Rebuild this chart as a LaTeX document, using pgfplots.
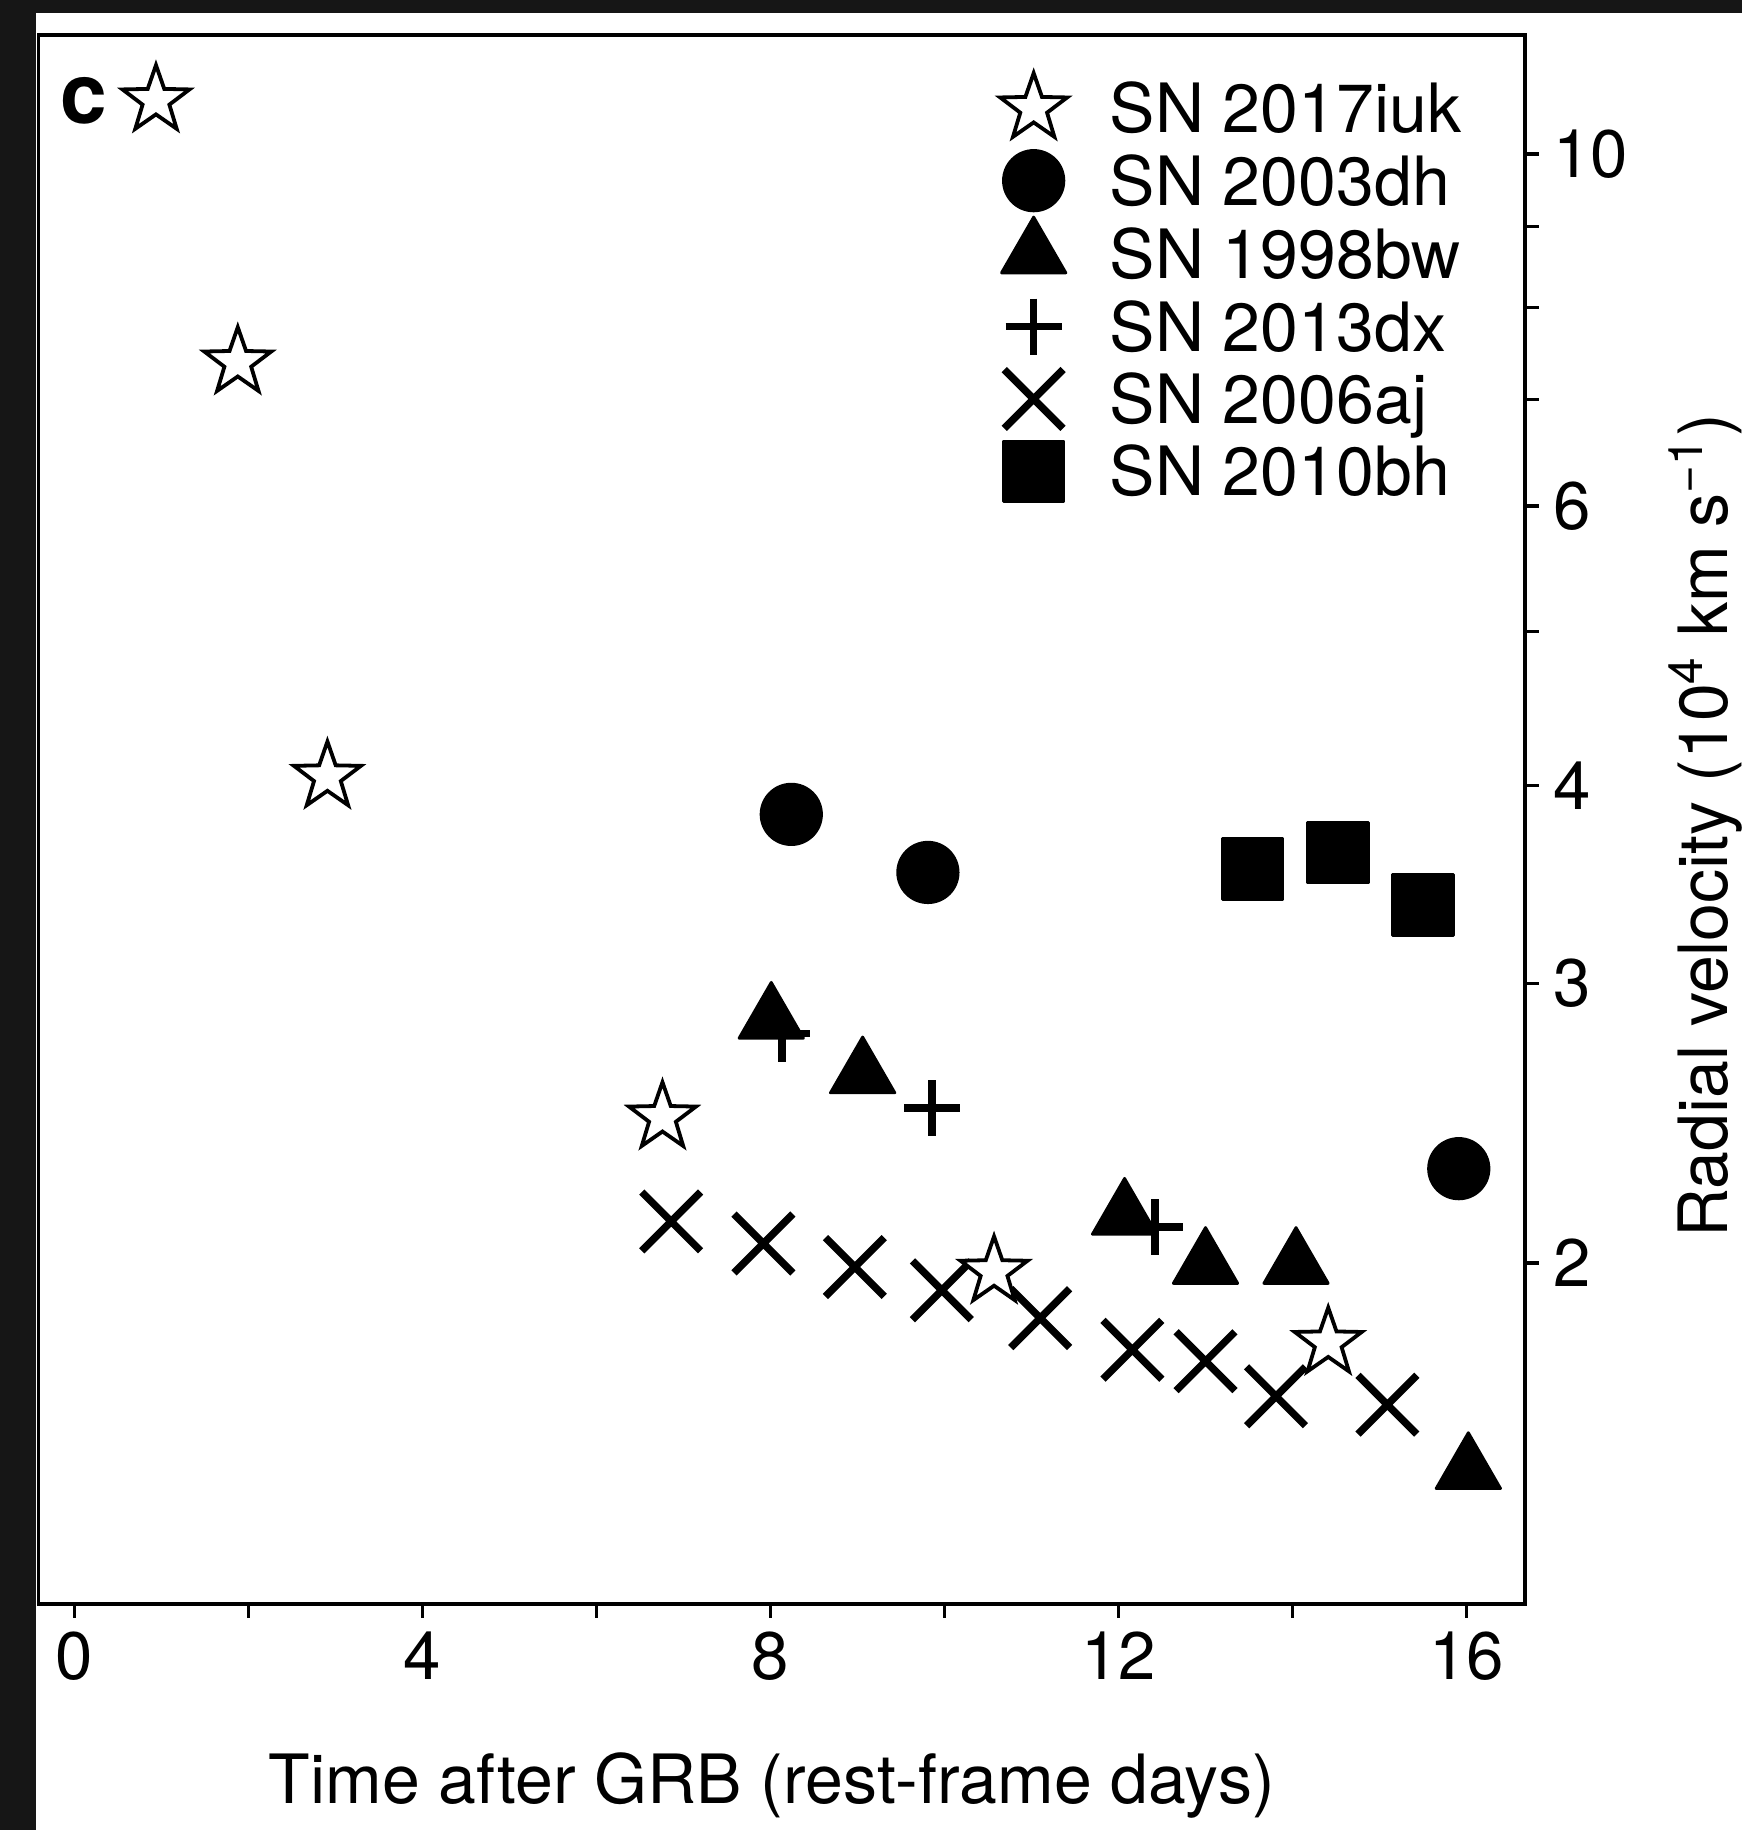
\documentclass[border=0pt]{standalone}
\usepackage{fontspec}
\setmainfont{TeX Gyre Heros}
\usepackage{pgfplots}
\pgfplotsset{compat=1.18}
\definecolor{framecol}{HTML}{161616}

\pgfdeclareplotmark{ostar}{%
  \pgfpathmoveto{\pgfpointpolar{90}{\pgfplotmarksize}}%
  \pgfpathlineto{\pgfpointpolar{126}{0.4*\pgfplotmarksize}}%
  \pgfpathlineto{\pgfpointpolar{162}{\pgfplotmarksize}}%
  \pgfpathlineto{\pgfpointpolar{198}{0.4*\pgfplotmarksize}}%
  \pgfpathlineto{\pgfpointpolar{234}{\pgfplotmarksize}}%
  \pgfpathlineto{\pgfpointpolar{270}{0.4*\pgfplotmarksize}}%
  \pgfpathlineto{\pgfpointpolar{306}{\pgfplotmarksize}}%
  \pgfpathlineto{\pgfpointpolar{342}{0.4*\pgfplotmarksize}}%
  \pgfpathlineto{\pgfpointpolar{18}{\pgfplotmarksize}}%
  \pgfpathlineto{\pgfpointpolar{54}{0.4*\pgfplotmarksize}}%
  \pgfpathclose
  \pgfusepathqfillstroke
}

\pgfplotsset{
  sstar/.style={only marks, mark=ostar, mark size=8.8pt, mark options={fill=white, draw=black, line width=0.95pt, line join=miter}},
  scirc/.style={only marks, mark=*, mark size=7.7pt, mark options={fill=black, draw=black, line width=0.4pt}},
  stri/.style={only marks, mark=triangle*, mark size=9.3pt, mark options={fill=black, draw=black, line width=0.7pt, line join=round}},
  splus/.style={only marks, mark=+, mark size=7pt, mark options={draw=black, line width=1.9pt}},
  scross/.style={only marks, mark=x, mark size=10.4pt, mark options={draw=black, line width=1.85pt}},
  ssq/.style={only marks, mark=square*, mark size=7.6pt, mark options={fill=black, draw=black, line width=0.7pt, line join=round}},
}

\begin{document}
\begin{tikzpicture}
\useasboundingbox (0,0) rectangle (435.5pt,457.5pt);
\fill[framecol] (0,0) rectangle (435.5pt,457.5pt);
\fill[white] (9pt,0) rectangle (435.5pt,454.3pt);
\begin{axis}[
  at={(9.625pt,56.5pt)}, anchor=south west,
  width=371.6pt, height=392.25pt, scale only axis,
  xmin=-0.41, xmax=16.67,
  ymode=log, ymin=1.219, ymax=11.885,
  xtick={0,4,8,12,16}, minor xtick={2,6,10,14},
  ytick={2,3,4,6,10}, yticklabels={2,3,4,6,10}, minor ytick={5,7,8,9},
  tick align=outside, xtick pos=bottom, ytick pos=right,
  xticklabel pos=bottom, yticklabel pos=right,
  major tick length=3.5pt, minor tick length=3.5pt,
  every tick/.style={line width=0.8pt, black},
  axis line style={line width=0.9pt},
  /pgf/number format/assume math mode=true,
  tick label style={font=\fontsize{16.8}{19}\selectfont},
  xlabel={Time after GRB (rest-frame days)},
  ylabel={Radial velocity (10\textsuperscript{4} km s\textsuperscript{−1})},
  label style={font=\fontsize{17}{20}\selectfont},
  xlabel style={at={(axis description cs:0.4934,-0.1154)}, anchor=center},
  ylabel style={at={(axis description cs:1.1215,0.496)}, anchor=center, rotate=0},
  legend style={at={(axis description cs:0.6453,0.9762)}, anchor=north west,
    draw=none, fill=none, inner sep=0pt, outer sep=0pt,
    row sep=0.09pt, column sep=10pt,
    font=\fontsize{17}{19}\selectfont,
    nodes={inner sep=0pt, text height=12.2pt, text depth=0pt}},
  legend cell align=left,
  legend image code/.code={\path[draw=none,fill=none] (-9pt,-9pt) rectangle (9pt,9pt);
    \draw[mark repeat=1,mark phase=1,#1] plot coordinates {(0pt,0pt)};},
]
\addlegendimage{sstar}\addlegendentry{SN 2017iuk}
\addlegendimage{scirc}\addlegendentry{SN 2003dh}
\addlegendimage{stri}\addlegendentry{SN 1998bw}
\addlegendimage{splus}\addlegendentry{SN 2013dx}
\addlegendimage{scross}\addlegendentry{SN 2006aj}
\addlegendimage{ssq}\addlegendentry{SN 2010bh}

% SN 2013dx
\addplot[splus, forget plot] coordinates {(8.13,2.790) (9.86,2.503) (12.42,2.106)};
% SN 1998bw
\addplot[stri, forget plot] coordinates {(8.01,2.847) (9.06,2.630) (12.07,2.142) (13.00,1.995) (14.04,1.995) (16.02,1.481)};
% SN 2003dh
\addplot[scirc, forget plot] coordinates {(8.24,3.835) (9.81,3.525) (15.91,2.293)};
% SN 2010bh
\addplot[ssq, forget plot] coordinates {(13.54,3.543) (14.52,3.628) (15.50,3.361)};
% SN 2006aj
\addplot[scross, forget plot] coordinates {(6.86,2.124) (7.92,2.057) (8.97,1.988) (9.97,1.922) (11.10,1.846) (12.16,1.763) (13.00,1.734) (13.81,1.648) (15.09,1.628)};
% SN 2017iuk
\addplot[sstar, forget plot] coordinates {(0.94,10.81) (1.88,7.39) (2.91,4.05) (6.76,2.47) (10.57,1.975) (14.41,1.781)};

\node[font=\fontsize{21}{24}\selectfont\bfseries] at (rel axis cs:0.0305,0.958) {c};
\end{axis}
\end{tikzpicture}
\end{document}
